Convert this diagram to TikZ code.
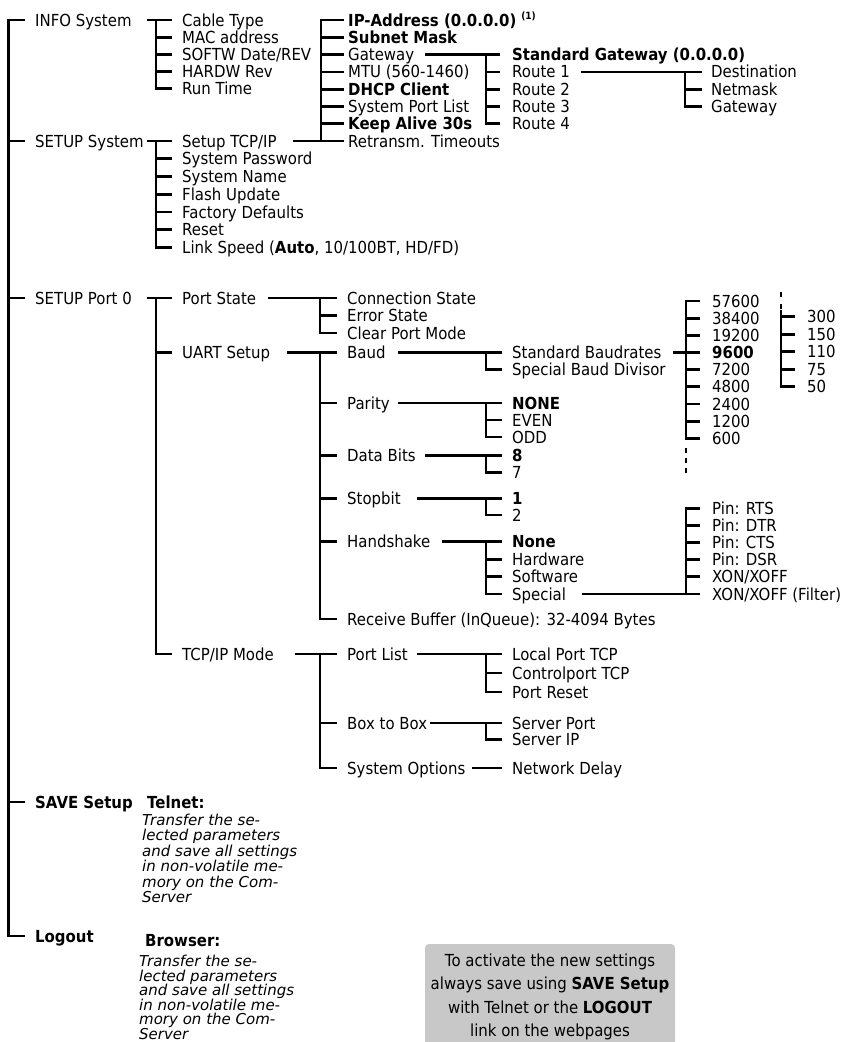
\documentclass[tikz,border=0pt]{standalone}
\usepackage{fontspec}
\setmainfont{DejaVu Sans}[FakeStretch=0.9,ItalicFont={DejaVu Sans Oblique},BoldFont={DejaVu Sans Bold},BoldItalicFont={DejaVu Sans Bold Oblique}]
\newfontfamily\itfam{DejaVu Sans}[ItalicFont={DejaVu Sans Oblique}]
\definecolor{boxgray}{RGB}{200,200,200}
\newcommand\fsN{\fontsize{16.6}{17}\selectfont}
\newcommand\fsI{\itfam\fontsize{15}{15}\selectfont\itshape}
\tikzset{
  conn/.style={line width=2.8pt},
  vbar/.style={line width=2.8pt, line cap=rect},
  lbl/.style={anchor=west, inner sep=0pt, text height=12.1pt, text depth=0pt, font=\fsN},
  bf/.style={font=\fsN\bfseries},
  itl/.style={anchor=west, inner sep=0pt, text height=11pt, text depth=0pt, font=\fsI},
  ctr/.style={anchor=center, inner sep=0pt, text height=12.1pt, text depth=0pt, font=\fsN},
  notebox/.style={draw=none, fill=boxgray, rounded corners=4pt, minimum width=250pt, minimum height=110pt, inner sep=0pt}
}
% horizontal connector at the row of node #1 from x=#2 to x=#3
\newcommand\hcon[3]{\draw[conn] (#2,0 |- #1.west) -- (#3,0 |- #1.west);}
% vertical bar at x=#1 from row of node #2 to row of node #3
\newcommand\vcon[3]{\draw[vbar] (#1,0 |- #2.west) -- (#1,0 |- #3.west);}
% ticks at x from #1 to #2 for list of nodes #3
\newcommand\ticks[3]{\foreach \nn in {#3} {\draw[conn] (#1,0 |- \nn.west) -- (#2,0 |- \nn.west);}}
\begin{document}
\begin{tikzpicture}[x=1pt,y=-1pt]
\fill[white] (0,0) rectangle (851,1042);
\useasboundingbox (0,0) rectangle (851,1042);

% ---------- level 0
\node[lbl] (info) at (35,20) {INFO System};
\node[lbl] (setsys) at (35,141) {SETUP System};
\node[lbl] (setport) at (35,298) {SETUP Port 0};
\node[lbl,bf] (save) at (35,802) {SAVE Setup};
\node[lbl,bf] (logout) at (35,936) {Logout};
\vcon{8.5}{info}{logout}
\ticks{8.5}{25}{info,setsys,setport,save,logout}

% ---------- INFO System
\node[lbl] (cable) at (182,20) {Cable Type};
\node[lbl] (mac) at (182,37.2) {MAC address};
\node[lbl] (softw) at (182,54.4) {SOFTW Date/REV};
\node[lbl] (hardw) at (182,71.6) {HARDW Rev};
\node[lbl] (runtime) at (182,88.8) {Run Time};
\hcon{info}{147}{172}
\vcon{156}{cable}{runtime}
\ticks{156}{172}{mac,softw,hardw,runtime}

% ---------- SETUP System
\node[lbl] (tcpip) at (182,141) {Setup TCP/IP};
\node[lbl] (pwd) at (182,158.8) {System Password};
\node[lbl] (sysname) at (182,176.5) {System Name};
\node[lbl] (flash) at (182,194.2) {Flash Update};
\node[lbl] (factory) at (182,212) {Factory Defaults};
\node[lbl] (reset) at (182,229.7) {Reset};
\node[lbl] (link) at (182,247.5) {Link Speed (\textbf{Auto}, 10/100BT, HD/FD)};
\hcon{setsys}{147}{172}
\vcon{156}{tcpip}{link}
\ticks{156}{172}{pwd,sysname,flash,factory,reset,link}

% ---------- Setup TCP/IP
\node[lbl,bf] (ip) at (348,20) {IP-Address (0.0.0.0)\hspace{5pt}\raisebox{6.5pt}{\fontsize{10}{10}\selectfont\bfseries (1)}};
\node[lbl,bf] (subnet) at (348,37.3) {Subnet Mask};
\node[lbl] (gw) at (348,54.6) {Gateway};
\node[lbl] (mtu) at (348,71.9) {MTU (560-1460)};
\node[lbl,bf] (dhcp) at (348,89.2) {DHCP Client};
\node[lbl] (sportlist) at (348,106.5) {System Port List};
\node[lbl,bf] (keep) at (348,123.8) {Keep Alive 30s};
\node[lbl] (retr) at (348,141) {Retransm. Timeouts};
\hcon{tcpip}{293}{344}
\vcon{321}{ip}{retr}
\ticks{321}{344}{ip,subnet,gw,mtu,dhcp,sportlist,keep}

% ---------- Gateway
\node[lbl,bf] (stdgw) at (512,54.6) {Standard Gateway (0.0.0.0)};
\node[lbl] (r1) at (512,71.9) {Route 1};
\node[lbl] (r2) at (512,89.2) {Route 2};
\node[lbl] (r3) at (512,106.5) {Route 3};
\node[lbl] (r4) at (512,123.8) {Route 4};
\hcon{gw}{425}{500}
\vcon{486}{stdgw}{r4}
\ticks{486}{500}{r1,r2,r3,r4}

% ---------- Route 1
\node[lbl] (dest) at (711,71.9) {Destination};
\node[lbl] (netmask) at (711,89.2) {Netmask};
\node[lbl] (rgw) at (711,106.5) {Gateway};
\hcon{r1}{581}{702}
\vcon{685}{dest}{rgw}
\ticks{685}{702}{netmask,rgw}

% ---------- SETUP Port 0
\node[lbl] (pstate) at (182,298) {Port State};
\node[lbl] (uart) at (182,352.5) {UART Setup};
\node[lbl] (tcpmode) at (182,654) {TCP/IP Mode};
\hcon{setport}{147}{172}
\vcon{156}{pstate}{tcpmode}
\ticks{156}{172}{uart,tcpmode}

% ---------- Port State
\node[lbl] (conn) at (347,298) {Connection State};
\node[lbl] (err) at (347,315.5) {Error State};
\node[lbl] (clear) at (347,333) {Clear Port Mode};
\hcon{pstate}{268}{337}
\vcon{320}{conn}{clear}
\ticks{320}{337}{err,clear}

% ---------- UART Setup
\node[lbl] (baud) at (347,352.5) {Baud};
\node[lbl] (parity) at (347,403) {Parity};
\node[lbl] (databits) at (347,455.5) {Data Bits};
\node[lbl] (stop) at (347,498.3) {Stopbit};
\node[lbl] (hand) at (347,541.7) {Handshake};
\node[lbl] (recv) at (347,619) {Receive Buffer (InQueue): 32-4094 Bytes};
\hcon{uart}{287}{337}
\vcon{320}{baud}{recv}
\ticks{320}{337}{parity,databits,stop,hand,recv}

% ---------- Baud
\node[lbl] (stdbaud) at (512,352.5) {Standard Baudrates};
\node[lbl] (spdiv) at (512,369.5) {Special Baud Divisor};
\hcon{baud}{398}{502}
\vcon{486}{stdbaud}{spdiv}
\ticks{486}{502}{spdiv}

% ---------- Baud rates
\node[lbl] (b57600) at (712,301) {57600};
\node[lbl] (b38400) at (712,318.2) {38400};
\node[lbl] (b19200) at (712,335.3) {19200};
\node[lbl,bf] (b9600) at (712,352.5) {9600};
\node[lbl] (b7200) at (712,369.7) {7200};
\node[lbl] (b4800) at (712,386.8) {4800};
\node[lbl] (b2400) at (712,404) {2400};
\node[lbl] (b1200) at (712,421.2) {1200};
\node[lbl] (b600) at (712,438.3) {600};
\hcon{stdbaud}{673}{700}
\vcon{686}{b57600}{b600}
\ticks{686}{700}{b57600,b38400,b19200,b7200,b4800,b2400,b1200,b600}
\draw[conn,dash pattern=on 5pt off 5pt] (686,448) -- (686,476);

\node[lbl] (b300) at (807,316.7) {300};
\node[lbl] (b150) at (807,334.2) {150};
\node[lbl] (b110) at (807,351.7) {110};
\node[lbl] (b75) at (807,369.2) {75};
\node[lbl] (b50) at (807,386.7) {50};
\draw[vbar] (781,311) -- (781,0 |- b50.west);
\ticks{781}{795}{b300,b150,b110,b75,b50}
\draw[conn,dash pattern=on 5pt off 7pt] (781,292) -- (781,310);

% ---------- Parity
\node[lbl,bf] (pnone) at (512,403) {NONE};
\node[lbl] (peven) at (512,420) {EVEN};
\node[lbl] (podd) at (512,437) {ODD};
\hcon{parity}{398}{502}
\vcon{486}{pnone}{podd}
\ticks{486}{502}{peven,podd}

% ---------- Data bits
\node[lbl,bf] (d8) at (512,455.5) {8};
\node[lbl] (d7) at (512,472.5) {7};
\hcon{databits}{425}{502}
\vcon{486}{d8}{d7}
\ticks{486}{502}{d7}

% ---------- Stopbit
\node[lbl,bf] (s1) at (512,498.3) {1};
\node[lbl] (s2) at (512,515) {2};
\hcon{stop}{417}{502}
\vcon{486}{s1}{s2}
\ticks{486}{502}{s2}

% ---------- Handshake
\node[lbl,bf] (hnone) at (512,541.7) {None};
\node[lbl] (hhw) at (512,559.1) {Hardware};
\node[lbl] (hsw) at (512,576.5) {Software};
\node[lbl] (hsp) at (512,594) {Special};
\hcon{hand}{442}{502}
\vcon{486}{hnone}{hsp}
\ticks{486}{502}{hhw,hsw,hsp}

% ---------- Special
\node[lbl] (prts) at (712,508.3) {Pin: RTS};
\node[lbl] (pdtr) at (712,525.4) {Pin: DTR};
\node[lbl] (pcts) at (712,542.5) {Pin: CTS};
\node[lbl] (pdsr) at (712,559.6) {Pin: DSR};
\node[lbl] (xon) at (712,576.8) {XON/XOFF};
\node[lbl] (xonf) at (712,594) {XON/XOFF (Filter)};
\hcon{hsp}{582}{700}
\vcon{686}{prts}{xonf}
\ticks{686}{700}{prts,pdtr,pcts,pdsr,xon}

% ---------- TCP/IP Mode
\node[lbl] (plist) at (347,654) {Port List};
\node[lbl] (b2b) at (347,723) {Box to Box};
\node[lbl] (sysopt) at (347,768) {System Options};
\hcon{tcpmode}{295}{337}
\vcon{320}{plist}{sysopt}
\ticks{320}{337}{b2b,sysopt}

\node[lbl] (lport) at (512,654) {Local Port TCP};
\node[lbl] (cport) at (512,673) {Controlport TCP};
\node[lbl] (preset) at (512,692) {Port Reset};
\hcon{plist}{417}{502}
\vcon{486}{lport}{preset}
\ticks{486}{502}{cport,preset}

\node[lbl] (srvport) at (512,723) {Server Port};
\node[lbl] (srvip) at (512,739.5) {Server IP};
\hcon{b2b}{430}{502}
\vcon{486}{srvport}{srvip}
\ticks{486}{502}{srvip}

\node[lbl] (ndelay) at (512,768) {Network Delay};
\hcon{sysopt}{472}{502}

% ---------- SAVE / Logout texts
\node[lbl,bf] (telnet) at (147,802) {Telnet:};
\foreach \t [count=\i from 0] in {Transfer the se-,lected parameters,and save all settings,in non-volatile me-,mory on the Com-,Server}
  \node[itl] (tl\i) at (142,820+15.4*\i) {\t};
\node[lbl,bf] (browser) at (145,940) {Browser:};
\foreach \t [count=\i from 0] in {Transfer the se-,lected parameters,and save all settings,in non-volatile me-,mory on the Com-,Server}
  \node[itl] (bl\i) at (139,961+14.5*\i) {\t};

% ---------- note box
\node[notebox] (note) at (550,999) {};
\node[ctr] (n1) at (550,960) {To activate the new settings};
\node[ctr] (n2) at (550,983.5) {always save using \textbf{SAVE Setup}};
\node[ctr] (n3) at (550,1007) {with Telnet or the \textbf{LOGOUT}};
\node[ctr] (n4) at (550,1030.5) {link on the webpages};
\end{tikzpicture}
\end{document}
